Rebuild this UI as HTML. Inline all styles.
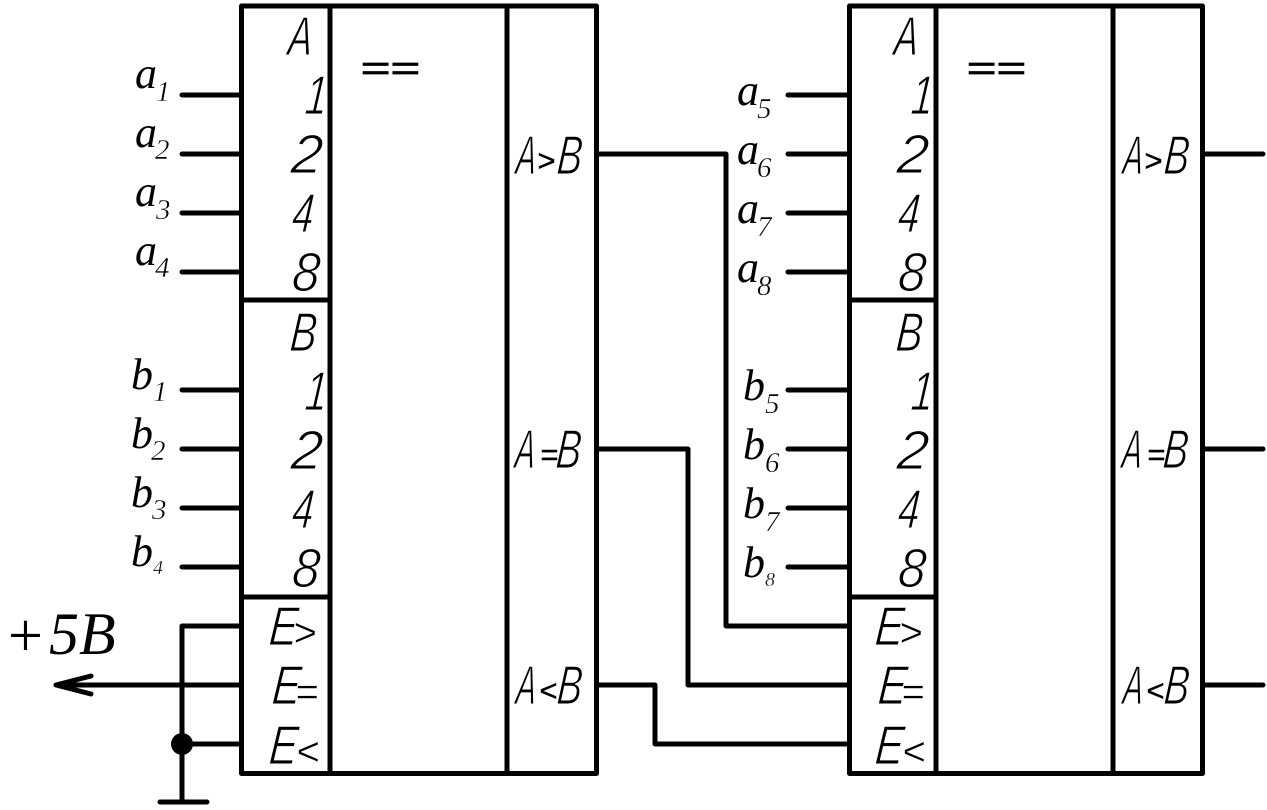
<!DOCTYPE html>
<html><head><meta charset="utf-8"><style>
html,body{margin:0;padding:0;background:#fff}
svg{display:block}
.w{fill:none;stroke:#000;stroke-width:5;stroke-linecap:round;stroke-linejoin:round}
.g{font-family:"Liberation Sans",sans-serif;font-style:italic;font-size:55px;fill:#000;stroke:#fff;stroke-width:1.1px}
.o{font-family:"Liberation Sans",sans-serif;font-style:italic;font-size:40px;fill:#000;stroke:#fff;stroke-width:.5px}
.m{font-family:"Liberation Sans",sans-serif;font-style:italic;font-size:31px;fill:#000;stroke:#000;stroke-width:.4px}
.e{font-family:"Liberation Sans",sans-serif;font-style:italic;font-size:34px;fill:#000;stroke:#000;stroke-width:.7px}
.s{font-family:"Liberation Serif",serif;font-style:italic;font-size:44px;fill:#000}
.u{font-family:"Liberation Serif",serif;font-style:italic;font-size:29px;fill:#000;stroke:#fff;stroke-width:.4px}
.t{font-family:"Liberation Serif",serif;font-style:italic;font-size:20px;fill:#000;stroke:#fff;stroke-width:.3px}
</style></head><body>
<svg width="1267" height="810" viewBox="0 0 1267 810" xmlns="http://www.w3.org/2000/svg">
<rect width="1267" height="810" fill="#fff"/>
<path class="w" d="M241.5 6H596.5V773.5H241.5ZM330 6V773.5M507 6V773.5M241.5 300H330M241.5 597H330"/>
<path class="w" d="M849.5 6H1202.5V773.5H849.5ZM936 6V773.5M1113 6V773.5M849.5 300H936M849.5 597H936"/>
<path class="w" d="M182 95H241M182 154H241M182 213H241M182 272H241M182 390H241M182 449H241M182 508H241M182 567H241"/>
<path class="w" d="M788 95H849M788 154H849M788 213H849M788 272H849M788 390H849M788 449H849M788 508H849M788 567H849"/>
<path class="w" d="M241 626H182V802M160 802H207M241 685H56M91 676L56 685L91 694M182 744H241"/>
<circle cx="182" cy="744" r="11" fill="#000"/>
<path class="w" d="M597 154H726V626H849M597 449H688V685H849M597 685H655V744H849"/>
<path class="w" d="M1203 154H1263M1203 449H1263M1203 685H1263"/>

<text class="g" transform="translate(287,55) skewX(-5) scale(.66,1)">A</text>
<text class="g" transform="translate(304,114) skewX(-5) scale(.72,1)">1</text>
<text class="g" transform="translate(290,173) skewX(-5) scale(1.02,1)">2</text>
<text class="g" transform="translate(291,232) skewX(-5) scale(.7,1)">4</text>
<text class="g" transform="translate(291,291) skewX(-5) scale(.9,1)">8</text>
<text class="g" transform="translate(289,351) skewX(-5) scale(.72,1)">B</text>
<text class="g" transform="translate(304,410) skewX(-5) scale(.72,1)">1</text>
<text class="g" transform="translate(290,469) skewX(-5) scale(1.02,1)">2</text>
<text class="g" transform="translate(291,528) skewX(-5) scale(.7,1)">4</text>
<text class="g" transform="translate(291,587) skewX(-5) scale(.9,1)">8</text>
<text class="g" transform="translate(268,645) skewX(-5) scale(.78,1)">E</text>
<text class="o" x="293" y="646">&gt;</text>
<text class="g" transform="translate(271,704) skewX(-5) scale(.78,1)">E</text>
<text class="o" x="295" y="705">=</text>
<text class="g" transform="translate(268,764) skewX(-5) scale(.78,1)">E</text>
<text class="o" x="296" y="765">&lt;</text>
<text class="e" transform="translate(360,80) scale(1.5,1)">==</text>

<text class="g" transform="translate(515,174) skewX(-5) scale(.55,1)">A</text>
<text class="m" x="537" y="171">&gt;</text>
<text class="g" transform="translate(556,174) skewX(-5) scale(.68,1)">B</text>
<text class="g" transform="translate(514,468) skewX(-5) scale(.55,1)">A</text>
<text class="m" x="540" y="465">=</text>
<text class="g" transform="translate(555,468) skewX(-5) scale(.68,1)">B</text>
<text class="g" transform="translate(515,704) skewX(-5) scale(.55,1)">A</text>
<text class="m" x="539" y="701">&lt;</text>
<text class="g" transform="translate(556,704) skewX(-5) scale(.68,1)">B</text>

<text class="g" transform="translate(893,55) skewX(-5) scale(.66,1)">A</text>
<text class="g" transform="translate(910,114) skewX(-5) scale(.72,1)">1</text>
<text class="g" transform="translate(896,173) skewX(-5) scale(1.02,1)">2</text>
<text class="g" transform="translate(897,232) skewX(-5) scale(.7,1)">4</text>
<text class="g" transform="translate(897,291) skewX(-5) scale(.9,1)">8</text>
<text class="g" transform="translate(895,351) skewX(-5) scale(.72,1)">B</text>
<text class="g" transform="translate(910,410) skewX(-5) scale(.72,1)">1</text>
<text class="g" transform="translate(896,469) skewX(-5) scale(1.02,1)">2</text>
<text class="g" transform="translate(897,528) skewX(-5) scale(.7,1)">4</text>
<text class="g" transform="translate(897,587) skewX(-5) scale(.9,1)">8</text>
<text class="g" transform="translate(874,645) skewX(-5) scale(.78,1)">E</text>
<text class="o" x="899" y="646">&gt;</text>
<text class="g" transform="translate(877,704) skewX(-5) scale(.78,1)">E</text>
<text class="o" x="901" y="705">=</text>
<text class="g" transform="translate(874,764) skewX(-5) scale(.78,1)">E</text>
<text class="o" x="902" y="765">&lt;</text>
<text class="e" transform="translate(966,80) scale(1.5,1)">==</text>

<text class="g" transform="translate(1122,174) skewX(-5) scale(.55,1)">A</text>
<text class="m" x="1144" y="171">&gt;</text>
<text class="g" transform="translate(1163,174) skewX(-5) scale(.68,1)">B</text>
<text class="g" transform="translate(1121,468) skewX(-5) scale(.55,1)">A</text>
<text class="m" x="1147" y="465">=</text>
<text class="g" transform="translate(1162,468) skewX(-5) scale(.68,1)">B</text>
<text class="g" transform="translate(1122,704) skewX(-5) scale(.55,1)">A</text>
<text class="m" x="1146" y="701">&lt;</text>
<text class="g" transform="translate(1163,704) skewX(-5) scale(.68,1)">B</text>

<text class="s" x="135" y="88">a</text><text class="u" x="156" y="101">1</text>
<text class="s" x="135" y="147">a</text><text class="u" x="155" y="159">2</text>
<text class="s" x="135" y="206">a</text><text class="u" x="156" y="219">3</text>
<text class="s" x="135" y="265">a</text><text class="u" x="155" y="277">4</text>
<text class="s" x="131" y="389">b</text><text class="u" x="153" y="401">1</text>
<text class="s" x="131" y="448">b</text><text class="u" x="151" y="460">2</text>
<text class="s" x="131" y="507">b</text><text class="u" x="152" y="519">3</text>
<text class="s" x="131" y="566">b</text><text class="t" x="153" y="574">4</text>

<text class="s" x="737" y="105">a</text><text class="u" x="757" y="118">5</text>
<text class="s" x="737" y="164">a</text><text class="u" x="757" y="177">6</text>
<text class="s" x="737" y="223">a</text><text class="u" x="757" y="236">7</text>
<text class="s" x="737" y="282">a</text><text class="u" x="757" y="295">8</text>
<text class="s" x="743" y="400">b</text><text class="u" x="765" y="413">5</text>
<text class="s" x="743" y="459">b</text><text class="u" x="765" y="472">6</text>
<text class="s" x="743" y="518">b</text><text class="u" x="765" y="531">7</text>
<text class="s" x="743" y="577">b</text><text class="t" x="765" y="586">8</text>

<text x="8" y="656" style="font-family:'Liberation Serif',serif;font-size:62px">+</text>
<text x="49" y="654" style="font-family:'Liberation Serif',serif;font-style:italic;font-size:60px">5B</text>
</svg>
</body></html>
